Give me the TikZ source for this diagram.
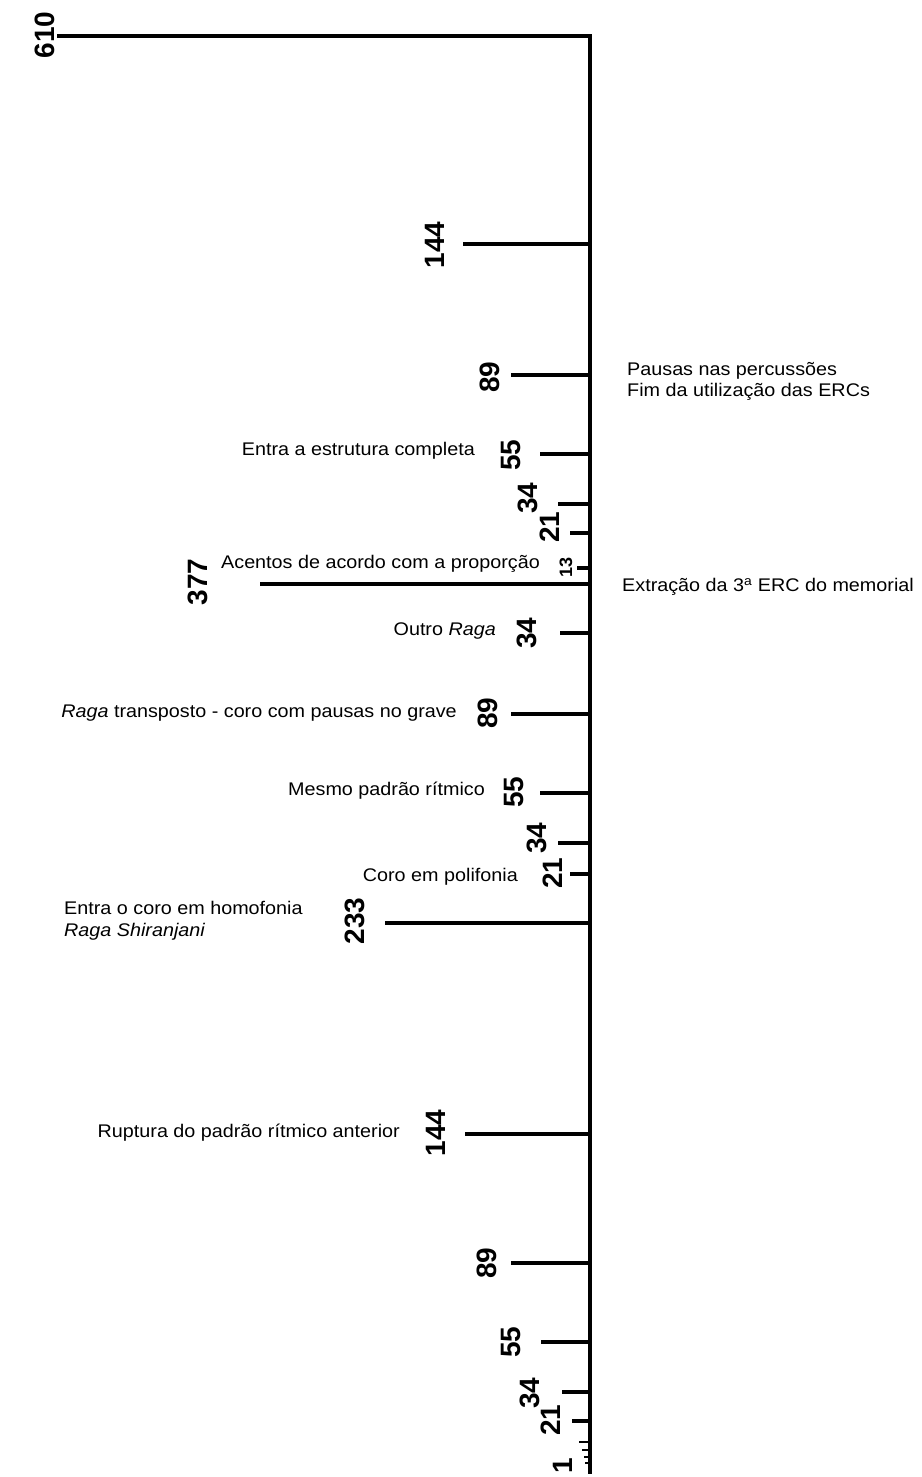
\documentclass[tikz,border=0pt]{standalone}
\usepackage{fontspec}
\setmainfont{Liberation Sans}
\newfontfamily\labfont{Liberation Sans}[FakeStretch=1.08]
\begin{document}
\begin{tikzpicture}[x=1pt,y=-1pt,
  axisline/.style={line width=3.4pt, line join=miter},
  tickline/.style={line width=3.4pt},
  smalltick/.style={line width=2.4pt},
  num/.style={rotate=90, inner sep=0pt, font=\fontsize{28}{28}\selectfont\bfseries},
  smallnum/.style={rotate=90, inner sep=0pt, font=\fontsize{18}{18}\selectfont\bfseries},
  lab/.style={inner sep=0pt, font=\labfont\fontsize{18.3}{21}\selectfont, align=left}]
\useasboundingbox[fill=white] (0,0) rectangle (921,1477);
% axis
\coordinate (top) at (590,36);
\coordinate (bot) at (590,1474);
\coordinate (l610) at (57,36);
\draw[axisline] (l610) -- (top) -- (bot);
% ticks: name / y / length
\foreach \n/\y/\len in {
  a144/244/127, a89/375/79, a55/454/50, a34/504/32, a21/533/20, a13/568/13,
  b377/584/330, b34/633/30, b89/714/79, b55/793/50, b34s/843/32, b21/874/20,
  c233/923/205, c144/1134/125, c89/1263/79, c55/1342/49, c34/1392/28, c21/1421/18}{
  \coordinate (\n-r) at (590,\y);
  \coordinate (\n-l) at (590-\len,\y);
  \draw[tickline] (\n-l) -- (\n-r);
}
\foreach \n/\y/\len in {d13/1442/11, d8/1450/8, d5/1457/6, d3/1463/5}{
  \coordinate (\n-r) at (590,\y);
  \coordinate (\n-l) at (590-\len,\y);
  \draw[smalltick] (\n-l) -- (\n-r);
}
% numbers
\node[num] (n610) at (45,35) {610};
\node[num] (n144a) at (435,245) {144};
\node[num] (n89a) at (490,377) {89};
\node[num] (n55a) at (511,455) {55};
\node[num] (n34a) at (528,498) {34};
\node[num] (n21a) at (550,527) {21};
\node[smallnum] (n13a) at (566,567) {13};
\node[num] (n377) at (198,582) {377};
\node[num] (n34b) at (527,633) {34};
\node[num] (n89b) at (488,713) {89};
\node[num] (n55b) at (514,792) {55};
\node[num] (n34c) at (537,838) {34};
\node[num] (n21b) at (553,873) {21};
\node[num] (n233) at (355,921) {233};
\node[num] (n144b) at (436,1133) {144};
\node[num] (n89c) at (487,1263) {89};
\node[num] (n55c) at (511,1342) {55};
\node[num] (n34d) at (530,1393) {34};
\node[num] (n21c) at (551,1420) {21};
\node[num] (n1) at (563,1466) {1};
% labels
\node[lab, anchor=west] (p1) at (627,371) {Pausas nas percussões};
\node[lab, anchor=west] (p2) at (627,392) {Fim da utilização das ERCs};
\node[lab, anchor=east] (p3) at (475,451) {Entra a estrutura completa};
\node[lab, anchor=east] (p4) at (540,564) {Acentos de acordo com a proporção};
\node[lab, anchor=west] (p5) at (622,587) {Extração da 3\textsuperscript{a} ERC do memorial};
\node[lab, anchor=east] (p6) at (496,631) {Outro \textit{Raga}};
\node[lab, anchor=east] (p7) at (457,713) {\textit{Raga} transposto - coro com pausas no grave};
\node[lab, anchor=east] (p8) at (485,791) {Mesmo padrão rítmico};
\node[lab, anchor=east] (p9) at (518,877) {Coro em polifonia};
\node[lab, anchor=west] (p10) at (64,908) {Entra o coro em homofonia};
\node[lab, anchor=west] (p11) at (64,932) {\textit{Raga Shiranjani}};
\node[lab, anchor=east] (p12) at (400,1133) {Ruptura do padrão rítmico anterior};
\end{tikzpicture}
\end{document}
